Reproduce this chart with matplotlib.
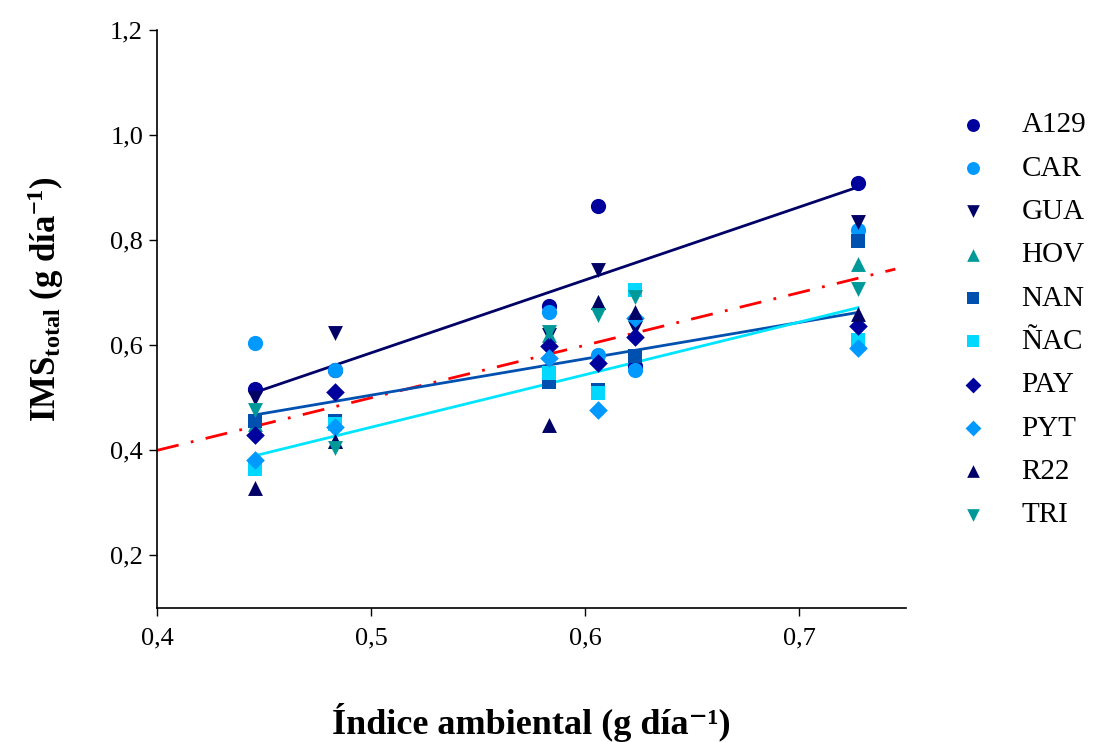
import matplotlib
matplotlib.use("Agg")
import matplotlib.pyplot as plt
import numpy as np

plt.rcParams['font.family'] = ['Liberation Serif', 'DejaVu Serif']
plt.rcParams['mathtext.default'] = 'regular'

# indice ambiental (x) for the six environments
x_env = [0.4457, 0.483, 0.583, 0.606, 0.6235, 0.7276]

genotypes = ["A129", "CAR", "GUA", "HOV", "NAN", "ÑAC", "PAY", "PYT", "R22", "TRI"]
a129 = [0.516, 0.553, 0.674, 0.865, 0.560, 0.909]
car = [0.605, 0.552, 0.663, 0.581, 0.552, 0.819]
gua = [0.499, 0.623, 0.619, 0.744, 0.632, 0.835]
hov = [0.450, 0.417, 0.620, 0.682, 0.660, 0.754]
nan_ = [0.455, 0.455, 0.530, 0.515, 0.579, 0.799]
nac = [0.364, 0.450, 0.548, 0.509, 0.706, 0.610]
pay = [0.429, 0.511, 0.599, 0.566, 0.616, 0.636]
pyt = [0.381, 0.444, 0.575, 0.476, 0.651, 0.594]
r22 = [0.329, 0.417, 0.448, 0.682, 0.663, 0.660]
tri = [0.476, 0.404, 0.625, 0.657, 0.692, 0.708]

series = [a129, car, gua, hov, nan_, nac, pay, pyt, r22, tri]
colors = ["#00009C", "#0099FF", "#000066", "#009999", "#0050B0",
          "#00D8FF", "#00009C", "#0099FF", "#000066", "#009999"]
markers = ["o", "o", "v", "^", "s", "s", "D", "D", "^", "v"]
sizes = [120, 120, 115, 115, 100, 100, 90, 90, 115, 115]

# regression lines (slope, intercept)
reg_slope = [1.387, 0.692, 1.0]
reg_icpt = [-0.108, 0.159, -0.056]
reg_colors = ["#000066", "#0050B0", "#00E5FF"]

fig = plt.figure(figsize=(11.02, 7.42), dpi=100)
ax = fig.add_axes([0.1425, 0.1806, 0.6797, 0.779])

# 1:1 line
xr = np.array([0.4, 0.745])
ax.plot(xr, xr, color="red", lw=2, dashes=(8, 4.5, 1, 4.5), zorder=1)

xx = np.array([x_env[0], x_env[-1]])
for m, b, c in zip(reg_slope, reg_icpt, reg_colors):
    ax.plot(xx, m * xx + b, color=c, lw=2, zorder=2)

for name, ys, c, mk, s in zip(genotypes, series, colors, markers, sizes):
    ax.scatter(x_env, ys, s=s, marker=mk, color=c, label=name, zorder=3,
               linewidths=0)

ax.set_xlim(0.4, 0.75)
ax.set_ylim(0.1, 1.2)
ax.set_xticks([0.4, 0.5, 0.6, 0.7])
ax.set_xticklabels(["0,4", "0,5", "0,6", "0,7"])
ax.set_yticks([0.2, 0.4, 0.6, 0.8, 1.0, 1.2])
ax.set_yticklabels(["0,2", "0,4", "0,6", "0,8", "1,0", "1,2"])
ax.tick_params(direction="out", length=6, width=1, labelsize=19)
ax.tick_params(axis="x", pad=8)
ax.tick_params(axis="y", pad=4)
ax.spines["top"].set_visible(False)
ax.spines["right"].set_visible(False)
for sp in ["left", "bottom"]:
    ax.spines[sp].set_linewidth(1.2)

ax.set_xlabel("Índice ambiental (g día\u207b\u00b9)", fontsize=26,
              fontweight="bold")
ax.xaxis.set_label_coords(0.5, -0.165)
ax.set_ylabel("IMS$_{total}$ (g día$^{-1}$)", fontsize=25,
              fontweight="bold")
ax.yaxis.set_label_coords(-0.122, 0.535)

leg = ax.legend(loc="upper left", bbox_to_anchor=(0.846, 0.865),
                bbox_transform=fig.transFigure, frameon=False, fontsize=21,
                labelspacing=0.58, handletextpad=0.66, markerscale=0.85,
                borderaxespad=0)

fig.savefig("out.png", dpi=100)
